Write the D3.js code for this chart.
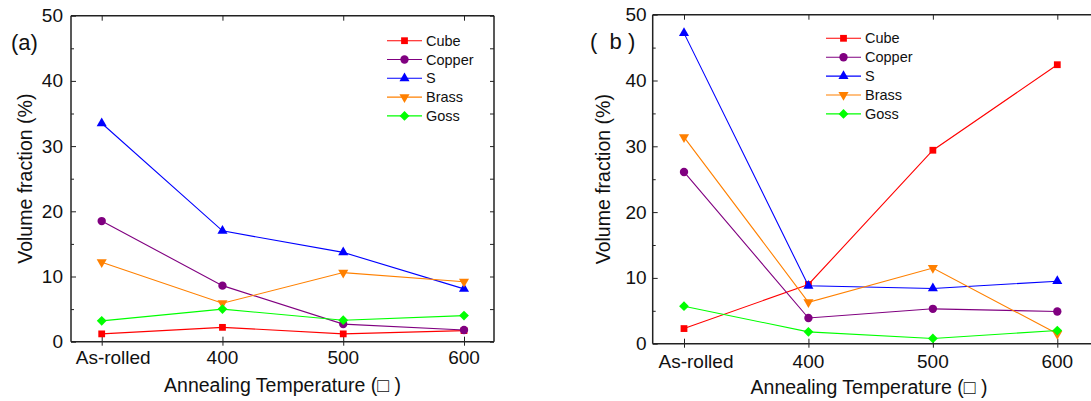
<!DOCTYPE html>
<html>
<head>
<meta charset="utf-8">
<script src="https://cdn.jsdelivr.net/npm/d3@7"></script>
<style>
  html, body { margin: 0; padding: 0; background: #fff; }
  svg { display: block; font-family: "Liberation Sans", Arial, sans-serif; }
</style>
</head>
<body>
<svg id="chart" width="1091" height="401"></svg>
<script>
// ---------------- data ----------------
const categories = ["As-rolled", "400", "500", "600"];
const seriesNames = ["Cube", "Copper", "S", "Brass", "Goss"];
const seriesColors = ["#ff0000", "#800080", "#0000ff", "#ff8000", "#00ff00"];
const yTicks = [0, 10, 20, 30, 40, 50];
const yMinorTicks = [5, 15, 25, 35, 45];

// panel (a)
const cubeA   = [1.2, 2.2, 1.2, 1.7];
const copperA = [18.5, 8.6, 2.7, 1.8];
const sA      = [33.5, 17.0, 13.7, 8.1];
const brassA  = [12.2, 5.9, 10.6, 9.2];
const gossA   = [3.2, 5.0, 3.3, 4.0];

// panel (b)
const cubeB   = [2.3, 9.0, 29.4, 42.4];
const copperB = [26.1, 3.9, 5.3, 4.9];
const sB      = [47.2, 8.8, 8.4, 9.5];
const brassB  = [31.4, 6.3, 11.5, 1.5];
const gossB   = [5.7, 1.8, 0.8, 2.0];

const xTitle = "Annealing Temperature (\u25A1 )";
const yTitle = "Volume fraction (%)";

// ---------------- drawing ----------------
const svg = d3.select("#chart");

const markerDefs = {
  Cube:   { type: d3.symbolSquare,   size: 46, rot: 0 },
  Copper: { type: d3.symbolCircle,   size: 55, rot: 0 },
  S:      { type: d3.symbolTriangle, size: 44, rot: 0 },
  Brass:  { type: d3.symbolTriangle, size: 44, rot: 180 },
  Goss:   { type: d3.symbolSquare,   size: 48, rot: 45 }
};

function drawPanel(cfg) {
  const g = svg.append("g");
  const x = d3.scalePoint().domain(categories).range([cfg.x0, cfg.x1]);
  const y = d3.scaleLinear().domain([0, 50]).range([cfg.bottom, cfg.top]);

  // frame
  const frame = g.append("g").attr("stroke", "#222").attr("stroke-width", 1.5).attr("fill", "none");
  frame.append("line").attr("x1", cfg.left).attr("x2", cfg.right).attr("y1", cfg.top).attr("y2", cfg.top);
  frame.append("line").attr("x1", cfg.left).attr("x2", cfg.right).attr("y1", cfg.bottom).attr("y2", cfg.bottom);
  frame.append("line").attr("x1", cfg.left).attr("x2", cfg.left).attr("y1", cfg.top).attr("y2", cfg.bottom);
  frame.append("line").attr("x1", cfg.right).attr("x2", cfg.right).attr("y1", cfg.top).attr("y2", cfg.bottom);

  // left y axis (inward ticks)
  const yAxisL = d3.axisRight(y).tickValues(yTicks).tickSize(5).tickFormat("");
  const gyl = g.append("g").attr("transform", `translate(${cfg.left},0)`).call(yAxisL);
  gyl.select(".domain").remove();
  gyl.selectAll("line").attr("stroke", "#222").attr("stroke-width", 1);
  const gylm = g.append("g").attr("transform", `translate(${cfg.left},0)`)
    .call(d3.axisRight(y).tickValues(yMinorTicks).tickSize(3).tickFormat(""));
  gylm.select(".domain").remove();
  gylm.selectAll("line").attr("stroke", "#222");

  // right y axis (inward ticks)
  const gyr = g.append("g").attr("transform", `translate(${cfg.right},0)`)
    .call(d3.axisLeft(y).tickValues(yTicks.concat(yMinorTicks)).tickSize(4).tickFormat(""));
  gyr.select(".domain").remove();
  gyr.selectAll("line").attr("stroke", "#222");

  // y tick labels
  g.append("g").selectAll("text").data(yTicks).join("text")
    .attr("x", cfg.left - cfg.yLabGap)
    .attr("y", d => y(d))
    .attr("text-anchor", "end")
    .attr("dominant-baseline", "central")
    .attr("font-size", 19)
    .attr("fill", "#111")
    .text(d => d);

  // bottom x axis ticks (in + out)
  const gx = g.append("g").attr("transform", `translate(0,${cfg.bottom})`)
    .call(d3.axisBottom(x).tickSize(4).tickFormat(""));
  gx.select(".domain").remove();
  gx.selectAll("line").attr("stroke", "#222").attr("y1", -5);
  const gxt = g.append("g").attr("transform", `translate(0,${cfg.top})`)
    .call(d3.axisBottom(x).tickSize(5).tickFormat(""));
  gxt.select(".domain").remove();
  gxt.selectAll("line").attr("stroke", "#222");

  // x tick labels
  g.append("g").selectAll("text").data(categories).join("text")
    .attr("x", (d, i) => x(d) + (i === 0 ? cfg.firstLabDx : 0))
    .attr("y", cfg.bottom + cfg.xLabDy)
    .attr("text-anchor", "middle")
    .attr("dominant-baseline", "central")
    .attr("font-size", 19)
    .attr("fill", "#111")
    .text(d => d);

  // axis titles
  g.append("text")
    .attr("x", cfg.xTitleX).attr("y", cfg.xTitleY)
    .attr("text-anchor", "middle").attr("dominant-baseline", "central")
    .attr("font-size", 19.5).attr("fill", "#111")
    .style("white-space", "pre")
    .text(xTitle);
  g.append("text")
    .attr("transform", `translate(${cfg.yTitleX},${(cfg.top + cfg.bottom) / 2}) rotate(-90)`)
    .attr("text-anchor", "middle").attr("dominant-baseline", "central")
    .attr("font-size", 19.5).attr("fill", "#111")
    .text(yTitle);

  // panel label
  g.append("text")
    .attr("x", cfg.labelX).attr("y", cfg.labelY)
    .attr("dominant-baseline", "central")
    .attr("font-size", 22).attr("fill", "#111")
    .style("white-space", "pre")
    .text(cfg.label);

  // series
  const line = d3.line().x((d, i) => x(categories[i])).y(d => y(d));
  cfg.series.forEach((vals, si) => {
    const name = seriesNames[si];
    const color = seriesColors[si];
    const m = markerDefs[name];
    g.append("path").datum(vals)
      .attr("d", line)
      .attr("fill", "none")
      .attr("stroke", color)
      .attr("stroke-width", 1.1);
    g.append("g").selectAll("path").data(vals).join("path")
      .attr("d", d3.symbol().type(m.type).size(m.size))
      .attr("transform", (d, i) => `translate(${x(categories[i])},${y(d)}) rotate(${m.rot})`)
      .attr("fill", color);
  });

  // legend
  const lg = g.append("g");
  seriesNames.forEach((name, i) => {
    const color = seriesColors[i];
    const m = markerDefs[name];
    const yy = cfg.legY + i * cfg.legStep;
    lg.append("line")
      .attr("x1", cfg.legX).attr("x2", cfg.legX + 35)
      .attr("y1", yy).attr("y2", yy)
      .attr("stroke", color).attr("stroke-width", 1.1);
    lg.append("path")
      .attr("d", d3.symbol().type(m.type).size(m.size))
      .attr("transform", `translate(${cfg.legX + 17.5},${yy}) rotate(${m.rot})`)
      .attr("fill", color);
    lg.append("text")
      .attr("x", cfg.legX + 39).attr("y", yy)
      .attr("dominant-baseline", "central")
      .attr("font-size", 14.5).attr("fill", "#111")
      .text(name);
  });
}

drawPanel({
  left: 71, right: 494, top: 15.7, bottom: 341.7,
  x0: 101.7, x1: 464,
  yLabGap: 8, xLabDy: 15.5, firstLabDx: 11.5,
  xTitleX: 282.5, xTitleY: 385, yTitleX: 25,
  label: "(a)", labelX: 11, labelY: 42,
  legX: 387, legY: 40.7, legStep: 18.8,
  series: [cubeA, copperA, sA, brassA, gossA]
});

drawPanel({
  left: 652.7, right: 1095, top: 14.7, bottom: 343.7,
  x0: 684, x1: 1057.3,
  yLabGap: 6, xLabDy: 17.5, firstLabDx: 12,
  xTitleX: 869, xTitleY: 386.7, yTitleX: 603,
  label: "(  b )", labelX: 590, labelY: 41.7,
  legX: 826, legY: 38.3, legStep: 18.9,
  series: [cubeB, copperB, sB, brassB, gossB]
});
</script>
</body>
</html>
